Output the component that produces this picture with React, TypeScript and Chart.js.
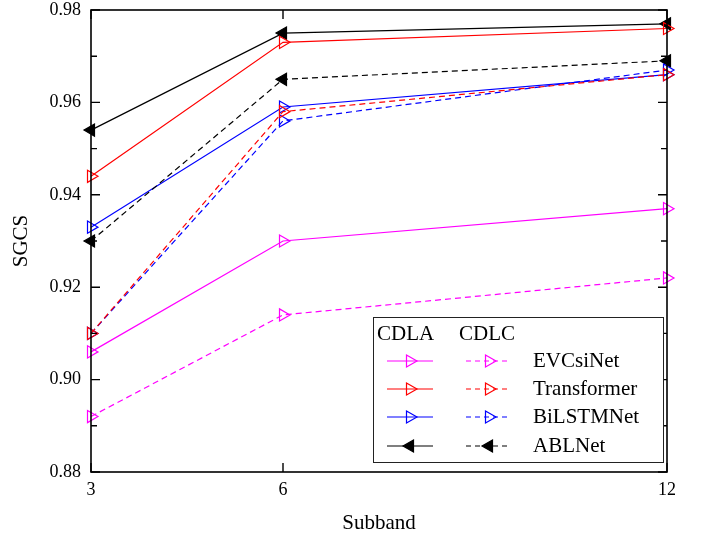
import React, { useEffect, useRef } from "react";
import { Chart, registerables } from "chart.js";

Chart.register(...registerables);

const subbands = [3, 6, 12];
const methodNames = ["EVCsiNet", "Transformer", "BiLSTMNet", "ABLNet"];
const methodColors = ["#ff00ff", "#ff0000", "#0000ff", "#000000"];

// CDLA (solid lines)
const cdlaEVCsiNet = [0.906, 0.930, 0.937];
const cdlaTransformer = [0.944, 0.973, 0.976];
const cdlaBiLSTMNet = [0.933, 0.959, 0.966];
const cdlaABLNet = [0.954, 0.975, 0.977];

// CDLC (dashed lines)
const cdlcEVCsiNet = [0.892, 0.914, 0.922];
const cdlcTransformer = [0.910, 0.958, 0.966];
const cdlcBiLSTMNet = [0.910, 0.956, 0.967];
const cdlcABLNet = [0.930, 0.965, 0.969];

const yTickValues = [0.88, 0.90, 0.92, 0.94, 0.96, 0.98];
const yMinorValues = [0.89, 0.91, 0.93, 0.95, 0.97];

const xTitle = "Subband";
const yTitle = "SGCS";
const legendHeaders = ["CDLA", "CDLC"];

const FONT = "'Liberation Serif', 'Times New Roman', serif";
const DASH = [6, 4];

const cdla = [cdlaEVCsiNet, cdlaTransformer, cdlaBiLSTMNet, cdlaABLNet];
const cdlc = [cdlcEVCsiNet, cdlcTransformer, cdlcBiLSTMNet, cdlcABLNet];

function makeDataset(name: string, values: number[], idx: number, dashed: boolean) {
  const filled = idx === 3;
  return {
    label: name + (dashed ? " (CDLC)" : " (CDLA)"),
    data: subbands.map((x, i) => ({ x, y: values[i] })),
    borderColor: methodColors[idx],
    borderWidth: 1.2,
    borderDash: dashed ? DASH : [],
    pointStyle: "triangle",
    pointRotation: filled ? -90 : 90,
    pointRadius: 7,
    pointHoverRadius: 7,
    pointBorderWidth: 1.2,
    pointBorderColor: methodColors[idx],
    pointBackgroundColor: filled ? methodColors[idx] : "rgba(0,0,0,0)",
    backgroundColor: "rgba(0,0,0,0)",
    fill: false,
    tension: 0,
    clip: false as const,
  };
}

function drawTri(ctx: CanvasRenderingContext2D, x: number, y: number, r: number, rotDeg: number, color: string, filled: boolean) {
  let rad = (rotDeg * Math.PI) / 180;
  ctx.save();
  ctx.setLineDash([]);
  ctx.beginPath();
  for (let k = 0; k < 3; k++) {
    const px = x + Math.sin(rad) * r;
    const py = y - Math.cos(rad) * r;
    if (k === 0) ctx.moveTo(px, py);
    else ctx.lineTo(px, py);
    rad += (2 * Math.PI) / 3;
  }
  ctx.closePath();
  ctx.lineWidth = 1.2;
  ctx.strokeStyle = color;
  if (filled) {
    ctx.fillStyle = color;
    ctx.fill();
  }
  ctx.stroke();
  ctx.restore();
}

const framePlugin = {
  id: "framePlugin",
  afterDatasetsDraw(chart: any) {
    const { ctx, chartArea } = chart;
    const { left, right, top, bottom } = chartArea;
    const xs = chart.scales.x;
    const ys = chart.scales.y;
    ctx.save();
    ctx.setLineDash([]);
    ctx.strokeStyle = "#000";
    ctx.lineWidth = 1.6;
    ctx.strokeRect(left, top, right - left, bottom - top);
    ctx.lineWidth = 1.4;
    ctx.beginPath();
    yTickValues.forEach((v) => {
      const py = ys.getPixelForValue(v);
      ctx.moveTo(left, py);
      ctx.lineTo(left + 9, py);
      ctx.moveTo(right, py);
      ctx.lineTo(right - 9, py);
    });
    yMinorValues.forEach((v) => {
      const py = ys.getPixelForValue(v);
      ctx.moveTo(left, py);
      ctx.lineTo(left + 6, py);
      ctx.moveTo(right, py);
      ctx.lineTo(right - 6, py);
    });
    subbands.forEach((v) => {
      const px = xs.getPixelForValue(v);
      ctx.moveTo(px, bottom);
      ctx.lineTo(px, bottom - 9);
      ctx.moveTo(px, top);
      ctx.lineTo(px, top + 9);
    });
    ctx.stroke();

    // Legend
    const bx = 373, by = 317, bw = 290, bh = 145;
    ctx.fillStyle = "#fff";
    ctx.fillRect(bx, by, bw, bh);
    ctx.lineWidth = 1;
    ctx.strokeStyle = "#222";
    ctx.strokeRect(bx + 0.5, by + 0.5, bw, bh);
    ctx.fillStyle = "#000";
    ctx.font = `21px ${FONT}`;
    ctx.textBaseline = "middle";
    ctx.textAlign = "left";
    ctx.fillText(legendHeaders[0], 377, 334);
    ctx.fillText(legendHeaders[1], 459, 334);
    const rowY = [361, 389, 417, 446];
    methodNames.forEach((name, i) => {
      const y = rowY[i];
      const color = methodColors[i];
      const filled = i === 3;
      const rot = filled ? -90 : 90;
      // solid sample
      ctx.strokeStyle = color;
      ctx.lineWidth = 1.2;
      ctx.setLineDash([]);
      ctx.beginPath();
      ctx.moveTo(387, y);
      ctx.lineTo(433, y);
      ctx.stroke();
      drawTri(ctx, 410, y, 7, rot, color, filled);
      // dashed sample
      ctx.strokeStyle = color;
      ctx.setLineDash([5, 4]);
      ctx.beginPath();
      ctx.moveTo(466, y);
      ctx.lineTo(507, y);
      ctx.stroke();
      ctx.setLineDash([]);
      drawTri(ctx, 489, y, 7, rot, color, filled);
      ctx.fillStyle = "#000";
      ctx.font = `21px ${FONT}`;
      ctx.fillText(name, 533, y);
    });

    // Axis titles
    ctx.fillStyle = "#000";
    ctx.font = `21px ${FONT}`;
    ctx.textAlign = "center";
    ctx.textBaseline = "middle";
    ctx.fillText(xTitle, (left + right) / 2, 523);
    ctx.save();
    ctx.translate(21, (top + bottom) / 2);
    ctx.rotate(-Math.PI / 2);
    ctx.fillText(yTitle, 0, 0);
    ctx.restore();
    ctx.restore();
  },
};

export default function App() {
  const canvasRef = useRef<HTMLCanvasElement | null>(null);

  useEffect(() => {
    if (!canvasRef.current) return;
    const datasets: any[] = [];
    methodNames.forEach((n, i) => datasets.push(makeDataset(n, cdlc[i], i, true)));
    methodNames.forEach((n, i) => datasets.push(makeDataset(n, cdla[i], i, false)));

    const chart = new Chart(canvasRef.current, {
      type: "line",
      data: { datasets },
      options: {
        animation: false,
        responsive: false,
        maintainAspectRatio: false,
        layout: { padding: { top: 10, right: 38, left: 0, bottom: 0 } },
        plugins: {
          legend: { display: false },
          tooltip: { enabled: false },
        },
        scales: {
          x: {
            type: "linear",
            min: 3,
            max: 12,
            grid: { display: false, drawTicks: false },
            border: { display: false },
            afterBuildTicks: (axis: any) => {
              axis.ticks = subbands.map((v) => ({ value: v }));
            },
            afterFit: (scale: any) => {
              scale.height = 65;
              scale.paddingLeft = 0;
              scale.paddingRight = 0;
            },
            ticks: {
              color: "#000",
              padding: 9,
              maxRotation: 0,
              autoSkip: false,
              font: { family: FONT, size: 18, lineHeight: 1 },
              callback: (v: any) => String(v),
            },
          },
          y: {
            type: "linear",
            min: 0.88,
            max: 0.98,
            grid: { display: false, drawTicks: false },
            border: { display: false },
            afterBuildTicks: (axis: any) => {
              axis.ticks = yTickValues.map((v) => ({ value: v }));
            },
            afterFit: (scale: any) => {
              scale.width = 91;
              scale.paddingTop = 0;
              scale.paddingBottom = 0;
            },
            ticks: {
              color: "#000",
              padding: 10,
              font: { family: FONT, size: 18, lineHeight: 1 },
              callback: (v: any) => Number(v).toFixed(2),
            },
          },
        },
      },
      plugins: [framePlugin],
    } as any);
    return () => chart.destroy();
  }, []);

  return (
    <div style={{ position: "fixed", left: 0, top: 0, width: 705, height: 537, background: "#fff" }}>
      <canvas ref={canvasRef} width={705} height={537} style={{ width: 705, height: 537, display: "block" }} />
    </div>
  );
}
